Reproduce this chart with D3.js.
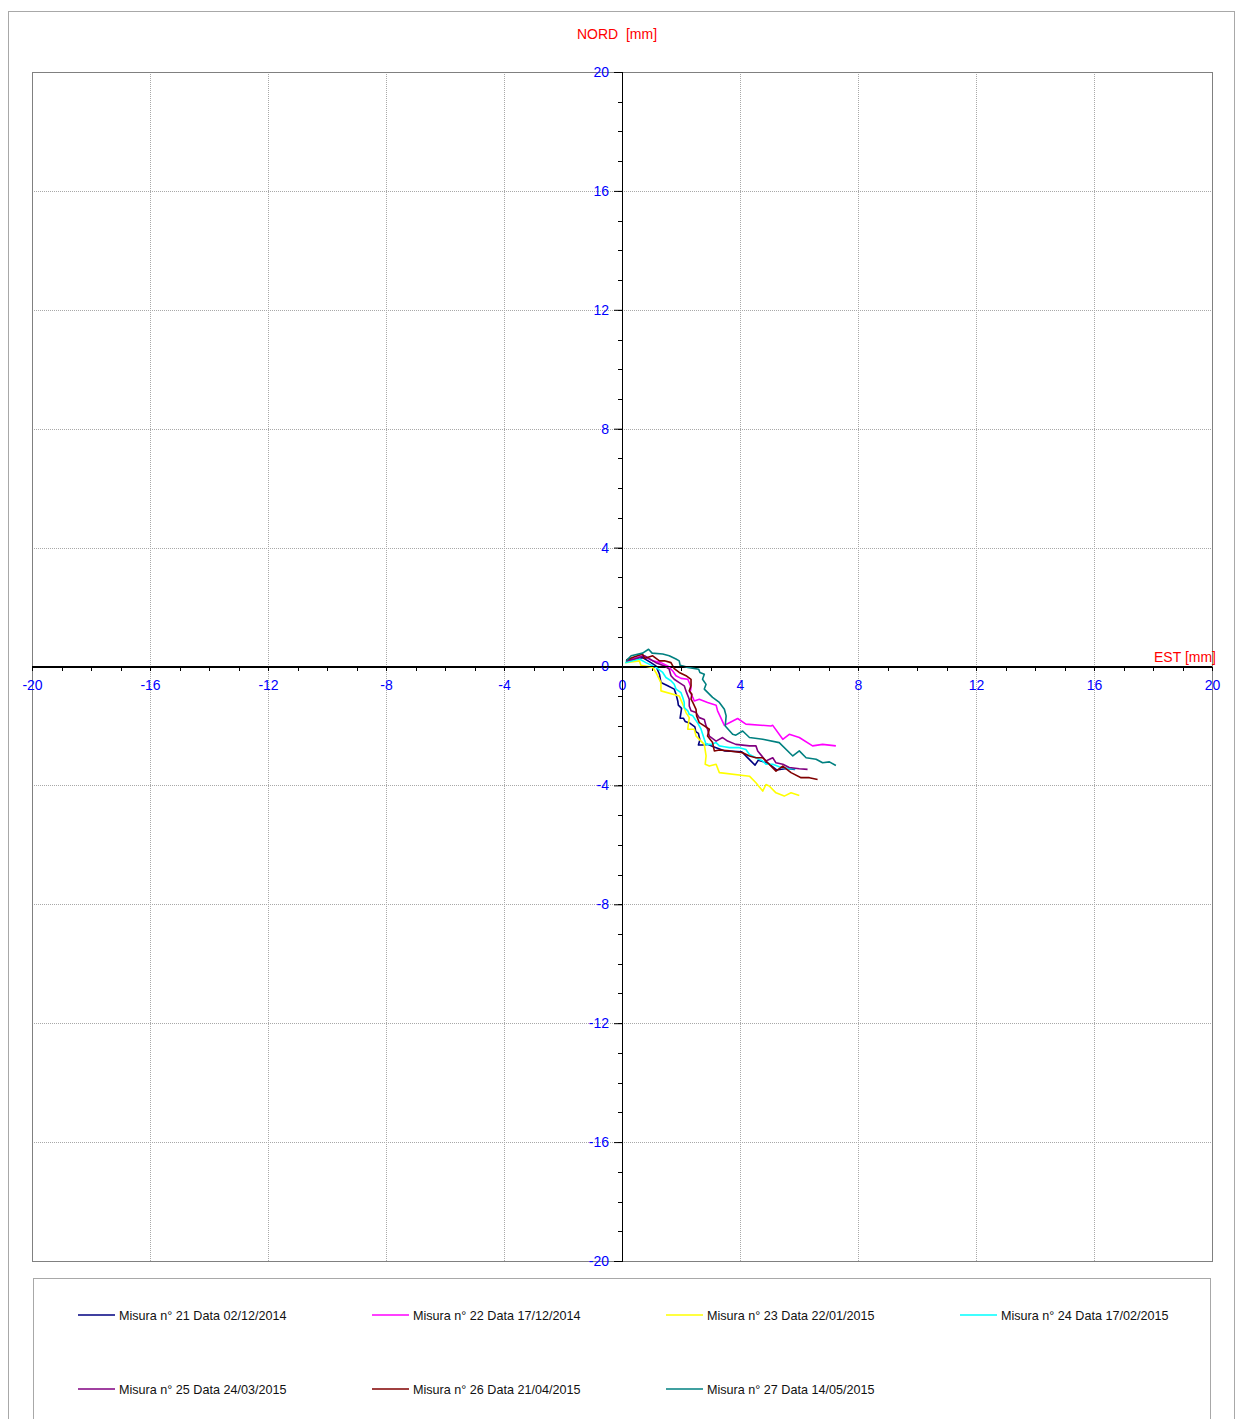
<!DOCTYPE html>
<html><head><meta charset="utf-8">
<script src="https://cdn.jsdelivr.net/npm/d3@7"></script>
<style>body{margin:0;background:#fff;font-family:"Liberation Sans",Arial,sans-serif;}</style>
</head><body>
<script>
const seriesNames = ["Misura n° 21 Data 02/12/2014","Misura n° 22 Data 17/12/2014","Misura n° 23 Data 22/01/2015","Misura n° 24 Data 17/02/2015","Misura n° 25 Data 24/03/2015","Misura n° 26 Data 21/04/2015","Misura n° 27 Data 14/05/2015"];
const seriesColors = ["#000080","#FF00FF","#FFFF00","#00FFFF","#800080","#800000","#008080"];
const tickValues = [-20,-16,-12,-8,-4,0,4,8,12,16,20];
const s21 = [[0.14,0.19],[0.47,0.27],[0.70,0.30],[0.98,0.13],[1.15,0.02],[1.27,-0.26],[1.32,-0.54],[1.55,-0.65],[1.77,-0.76],[1.83,-0.93],[1.89,-1.16],[1.91,-1.30],[2.02,-1.41],[1.97,-1.74],[2.08,-1.74],[2.14,-1.85],[2.31,-1.91],[2.47,-2.03],[2.50,-2.19],[2.59,-2.25],[2.64,-2.47],[2.59,-2.64],[2.73,-2.64],[2.90,-2.62],[3.10,-2.70],[3.49,-2.84],[4.06,-2.87],[4.23,-3.04],[4.34,-3.15],[4.51,-3.32],[4.62,-3.15],[4.96,-3.26],[5.24,-3.48],[5.58,-3.43],[5.86,-3.46]];
const s22 = [[0.14,0.16],[0.42,0.27],[0.70,0.36],[1.04,0.19],[1.32,0.13],[1.55,0.02],[1.72,-0.15],[1.83,-0.31],[2.00,-0.40],[2.23,-0.43],[2.28,-0.54],[2.34,-0.71],[2.31,-0.88],[2.40,-1.04],[2.45,-1.16],[2.62,-1.10],[2.90,-1.21],[3.19,-1.30],[3.24,-1.49],[3.47,-1.98],[3.64,-1.89],[3.92,-1.75],[4.20,-1.94],[5.05,-2.00],[5.11,-1.98],[5.45,-2.45],[5.67,-2.28],[6.01,-2.39],[6.46,-2.67],[6.80,-2.62],[7.25,-2.67]];
const s23 = [[0.11,0.13],[0.59,0.19],[0.64,0.04],[1.04,-0.03],[1.15,-0.20],[1.32,-0.54],[1.32,-0.82],[1.94,-0.99],[2.06,-1.27],[2.17,-1.55],[2.28,-1.72],[2.23,-2.11],[2.45,-2.11],[2.51,-2.34],[2.62,-2.45],[2.79,-2.62],[2.85,-3.01],[2.82,-3.29],[2.96,-3.35],[3.19,-3.29],[3.30,-3.57],[4.32,-3.69],[4.37,-3.74],[4.54,-3.91],[4.77,-4.19],[4.88,-3.97],[4.99,-4.02],[5.22,-4.25],[5.50,-4.36],[5.73,-4.25],[6.01,-4.34]];
const s24 = [[0.11,0.13],[0.59,0.25],[0.81,0.13],[1.15,-0.03],[1.38,-0.20],[1.49,-0.37],[1.66,-0.48],[1.77,-0.60],[1.83,-0.76],[2.00,-0.88],[2.06,-1.04],[2.11,-1.21],[2.11,-1.38],[2.23,-1.49],[2.28,-1.61],[2.40,-1.66],[2.56,-1.89],[2.68,-2.11],[2.79,-2.45],[2.85,-2.62],[3.02,-2.62],[3.19,-2.56],[3.30,-2.67],[3.47,-2.70],[3.64,-2.73],[3.98,-2.73],[4.20,-2.79],[4.32,-2.96],[4.54,-3.07],[4.77,-3.18],[4.88,-3.29],[5.11,-3.29],[5.33,-3.37],[5.67,-3.44],[5.90,-3.44]];
const s25 = [[0.14,0.19],[0.42,0.25],[0.76,0.36],[1.15,0.13],[1.44,0.02],[1.60,-0.09],[1.66,-0.31],[1.77,-0.43],[1.94,-0.54],[2.11,-0.65],[2.19,-0.88],[2.28,-1.10],[2.28,-1.33],[2.34,-1.49],[2.51,-1.55],[2.62,-1.72],[2.79,-1.78],[2.85,-2.00],[2.90,-2.11],[2.96,-2.34],[3.19,-2.51],[3.41,-2.39],[3.58,-2.51],[3.86,-2.62],[4.32,-2.67],[4.54,-2.67],[4.60,-2.84],[4.88,-3.18],[5.11,-3.07],[5.22,-3.24],[5.45,-3.29],[5.67,-3.40],[6.01,-3.44],[6.29,-3.46]];
const s26 = [[0.14,0.22],[0.36,0.30],[0.70,0.42],[0.76,0.27],[1.04,0.36],[1.27,0.19],[1.44,0.19],[1.66,0.13],[1.72,0.02],[1.77,-0.07],[1.94,-0.20],[2.17,-0.31],[2.34,-0.43],[2.34,-0.65],[2.28,-0.82],[2.37,-0.93],[2.34,-1.10],[2.40,-1.21],[2.51,-1.44],[2.53,-1.66],[2.62,-1.89],[2.79,-2.00],[2.96,-2.11],[2.90,-2.34],[3.07,-2.56],[3.13,-2.84],[3.30,-2.81],[3.64,-2.84],[4.09,-2.90],[4.32,-3.01],[4.54,-3.07],[4.77,-3.07],[4.94,-3.24],[5.22,-3.52],[5.45,-3.35],[5.73,-3.57],[6.07,-3.74],[6.35,-3.74],[6.63,-3.80]];
const s27 = [[0.14,0.19],[0.31,0.36],[0.70,0.45],[0.90,0.58],[1.02,0.45],[1.38,0.42],[1.60,0.36],[1.83,0.25],[1.94,0.19],[1.97,0.04],[2.23,-0.03],[2.60,-0.09],[2.64,-0.20],[2.79,-0.26],[2.73,-0.43],[2.85,-0.60],[2.79,-0.76],[2.96,-0.93],[3.07,-1.04],[3.30,-1.21],[3.47,-1.44],[3.53,-1.66],[3.50,-2.00],[3.75,-2.28],[3.86,-2.31],[4.09,-2.17],[4.32,-2.39],[4.77,-2.45],[5.33,-2.56],[5.79,-3.01],[6.01,-2.84],[6.24,-3.07],[6.58,-3.12],[6.80,-3.24],[7.03,-3.21],[7.25,-3.33]];
const seriesData = [s21,s22,s23,s24,s25,s26,s27];

const W = 1237, H = 1419;
const svg = d3.select("body").append("svg").attr("width", W).attr("height", H);
const font = '"Liberation Sans",Arial,sans-serif';
const fmt = d => String(d);

// outer frame
svg.append("rect").attr("x",8.5).attr("y",11.5).attr("width",1226).attr("height",1420)
  .attr("fill","none").attr("stroke","#a8a8a8");

const L = 32, R = 1212, T = 72, B = 1261;
const x = d3.scaleLinear().domain([-20,20]).range([L,R]);
const y = d3.scaleLinear().domain([-20,20]).range([B,T]);

// gridlines
const grid = svg.append("g");
grid.append("g").attr("transform",`translate(0,${T})`)
  .call(d3.axisBottom(x).tickValues(tickValues).tickSize(B-T).tickFormat(""))
  .call(g=>g.select(".domain").remove())
  .call(g=>g.selectAll("line").attr("stroke","#a8a8a8").attr("stroke-dasharray","1,1").attr("shape-rendering","crispEdges"));
grid.append("g").attr("transform",`translate(${L},0)`)
  .call(d3.axisRight(y).tickValues(tickValues).tickSize(R-L).tickFormat(""))
  .call(g=>g.select(".domain").remove())
  .call(g=>g.selectAll("line").attr("stroke","#a8a8a8").attr("stroke-dasharray","1,1").attr("shape-rendering","crispEdges"));
svg.append("rect").attr("x",L).attr("y",T).attr("width",R-L).attr("height",B-T)
  .attr("fill","none").attr("stroke","#808080").attr("shape-rendering","crispEdges");

// minor ticks
const minor = d3.range(-20,21,1);
svg.append("g").attr("transform",`translate(0,${y(0)})`)
  .call(d3.axisBottom(x).tickValues(minor).tickSize(4).tickFormat(""))
  .call(g=>g.selectAll("line,path").attr("stroke","#000").attr("shape-rendering","crispEdges"));
svg.append("g").attr("transform",`translate(${x(0)},0)`)
  .call(d3.axisLeft(y).tickValues(minor).tickSize(4).tickFormat(""))
  .call(g=>g.selectAll("line,path").attr("stroke","#000").attr("shape-rendering","crispEdges"));

// major labels
svg.append("g").attr("transform",`translate(0,${y(0)})`)
  .call(d3.axisBottom(x).tickValues(tickValues).tickSize(0).tickPadding(14).tickFormat(fmt))
  .call(g=>g.select(".domain").remove())
  .call(g=>g.selectAll("text").attr("fill","#0000FF").attr("font-size","14px").attr("font-family",font));
svg.append("g").attr("transform",`translate(${x(0)},0)`)
  .call(d3.axisLeft(y).tickValues(tickValues).tickSize(8).tickPadding(5).tickFormat(fmt))
  .call(g=>g.select(".domain").remove())
  .call(g=>g.selectAll("line").attr("stroke","#000"))
  .call(g=>g.selectAll("text").attr("fill","#0000FF").attr("font-size","14px").attr("font-family",font));

// axis titles
svg.append("text").attr("x",617).attr("y",39).attr("text-anchor","middle").attr("fill","#FF0000")
  .attr("font-size","14px").attr("font-family",font).style("white-space","pre").text("NORD  [mm]");
svg.append("text").attr("x",1216).attr("y",662).attr("text-anchor","end").attr("fill","#FF0000")
  .attr("font-size","14px").attr("font-family",font).text("EST [mm]");

// series
const line = d3.line().x(d=>x(d[0])).y(d=>y(d[1]));
seriesData.forEach((s,i)=>{
  svg.append("path").datum(s).attr("d",line).attr("fill","none")
    .attr("stroke",seriesColors[i]).attr("stroke-width",1.6).attr("stroke-linejoin","round");
});

// zero axes on top
svg.append("line").attr("x1",L).attr("x2",R).attr("y1",y(0)).attr("y2",y(0)).attr("stroke","#000").attr("shape-rendering","crispEdges");
svg.append("line").attr("x1",x(0)).attr("x2",x(0)).attr("y1",T).attr("y2",B).attr("stroke","#000").attr("shape-rendering","crispEdges");

// legend
svg.append("rect").attr("x",33.5).attr("y",1278.5).attr("width",1177).attr("height",160)
  .attr("fill","none").attr("stroke","#a8a8a8");
seriesNames.forEach((n,i)=>{
  const col = i%4, row = Math.floor(i/4);
  const lx = 78 + col*294, ly = 1315 + row*74;
  svg.append("line").attr("x1",lx).attr("x2",lx+37).attr("y1",ly).attr("y2",ly)
    .attr("stroke",seriesColors[i]).attr("stroke-width",1.6);
  svg.append("text").attr("x",lx+41).attr("y",ly+5).attr("fill","#111")
    .attr("font-size","12.6px").attr("font-family",font).text(n);
});
</script>
</body></html>
